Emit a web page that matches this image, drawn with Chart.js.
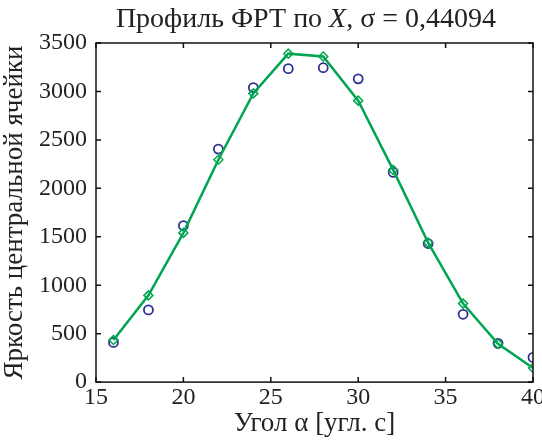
<!DOCTYPE html>
<html>
<head>
<meta charset="utf-8">
<script src="https://cdn.jsdelivr.net/npm/chart.js@4"></script>
<style>
  html, body { margin: 0; padding: 0; background: #fff; }
  #wrap { width: 542px; height: 442px; }
</style>
</head>
<body>
<div id="wrap"><canvas id="psfChart" width="542" height="442"></canvas></div>
<script>
// угол, угл. с
var angles = [16, 18, 20, 22, 24, 26, 28, 30, 32, 34, 36, 38, 40];
// измеренная яркость (кружки)
var measured = [410, 745, 1615, 2405, 3040, 3235, 3245, 3130, 2165, 1430, 700, 400, 255];
// аппроксимация (ромбы)
var fitted = [435, 895, 1540, 2295, 2980, 3390, 3360, 2905, 2190, 1440, 810, 395, 145];
var xTicks = [15, 20, 25, 30, 35, 40];
var yTicks = [0, 500, 1000, 1500, 2000, 2500, 3000, 3500];

var serif = '"Liberation Serif", "DejaVu Serif", serif';

// рамка с засечками внутрь и заголовок с курсивным X
const frame = {
    id: 'frame',
    afterDraw(chart) {
        const ctx = chart.ctx
        const a = chart.chartArea
        const xs = chart.scales.x
        const ys = chart.scales.y
        const len = 5
        ctx.save()
        ctx.strokeStyle = '#111'
        ctx.lineWidth = 1.5
        ctx.strokeRect(a.left, a.top, a.right - a.left, a.bottom - a.top)
        ctx.beginPath()
        xTicks.forEach(v => {
            const px = xs.getPixelForValue(v)
            ctx.moveTo(px, a.bottom); ctx.lineTo(px, a.bottom - len)
            ctx.moveTo(px, a.top); ctx.lineTo(px, a.top + len)
        })
        yTicks.forEach(v => {
            const py = ys.getPixelForValue(v)
            ctx.moveTo(a.left, py); ctx.lineTo(a.left + len, py)
            ctx.moveTo(a.right, py); ctx.lineTo(a.right - len, py)
        })
        ctx.stroke()

        // заголовок
        const parts = [
            ['Профиль ФРТ по ', 'normal'],
            ['X', 'italic'],
            [', σ = 0,44094', 'normal']
        ]
        let total = 0
        parts.forEach(p => {
            ctx.font = p[1] + ' 28px ' + serif
            total += ctx.measureText(p[0]).width
        })
        let x = 306 - total / 2
        ctx.fillStyle = '#222'
        ctx.textBaseline = 'alphabetic'
        ctx.textAlign = 'left'
        parts.forEach(p => {
            ctx.font = p[1] + ' 28px ' + serif
            ctx.fillText(p[0], x, 27)
            x += ctx.measureText(p[0]).width
        })
        ctx.restore()
    }
}

new Chart("psfChart", {
    type: "line",
    data: {
        datasets: [{
            label: 'fit',
            data: angles.map((a, i) => ({ x: a, y: fitted[i] })),
            borderColor: '#00a550',
            borderWidth: 2.5,
            pointStyle: 'rectRot',
            pointRadius: 4.5,
            pointBorderWidth: 1.5,
            pointBorderColor: '#00a550',
            pointBackgroundColor: 'rgba(0,0,0,0)',
            fill: false,
            tension: 0,
            order: 1
        }, {
            label: 'measured',
            data: angles.map((a, i) => ({ x: a, y: measured[i] })),
            showLine: false,
            pointStyle: 'circle',
            pointRadius: 4.5,
            pointBorderWidth: 1.8,
            pointBorderColor: '#2e3192',
            pointBackgroundColor: 'rgba(0,0,0,0)',
            order: 2
        }]
    },
    options: {
        responsive: false,
        animation: false,
        layout: { padding: { top: 43, right: 0, left: 0, bottom: 0 } },
        plugins: {
            legend: { display: false },
            title: { display: false },
            tooltip: { enabled: false }
        },
        scales: {
            x: {
                type: 'linear',
                min: 15,
                max: 40,
                afterBuildTicks: s => { s.ticks = xTicks.map(v => ({ value: v })) },
                // подпись "40" выходит за край, как в оригинале
                afterFit: s => { s.paddingRight = 9 },
                grid: { display: false, drawTicks: false },
                border: { display: false },
                ticks: {
                    color: '#222',
                    font: { family: serif, size: 24, lineHeight: 1 },
                    padding: 4,
                    maxRotation: 0,
                    callback: v => String(v)
                },
                title: {
                    display: true,
                    text: 'Угол α [угл. с]',
                    color: '#222',
                    font: { family: serif, size: 27, lineHeight: 0.7 },
                    padding: { top: 0, bottom: 9 }
                }
            },
            y: {
                min: 0,
                max: 3500,
                afterBuildTicks: s => { s.ticks = yTicks.map(v => ({ value: v })) },
                grid: { display: false, drawTicks: false },
                border: { display: false },
                ticks: {
                    color: '#222',
                    font: { family: serif, size: 24, lineHeight: 1 },
                    padding: 9,
                    callback: v => String(v)
                },
                title: {
                    display: true,
                    text: 'Яркость центральной ячейки',
                    color: '#222',
                    font: { family: serif, size: 27, lineHeight: 1 },
                    padding: { top: 1, bottom: 2 }
                }
            }
        }
    },
    plugins: [frame]
});
</script>
</body>
</html>
